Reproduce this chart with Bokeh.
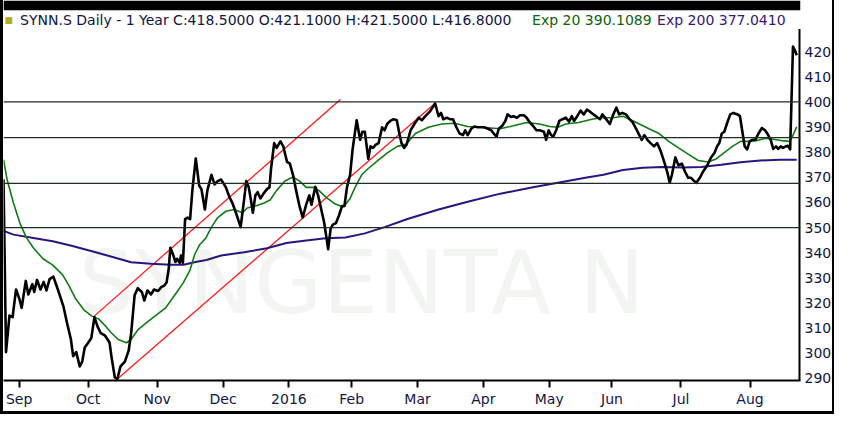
from bokeh.plotting import figure
from bokeh.models import Range1d, FixedTicker, Span, Label, BoxAnnotation
from bokeh.embed import file_html
from bokeh.resources import INLINE

# ---- data (x = trading-day index, y = price) ----
close_day = [0.0, 0.8, 1.9, 2.9, 4.0, 5.0, 5.8, 7.1, 7.9, 9.2, 9.8, 10.7, 11.8, 12.8, 13.7, 14.7, 15.9,
             17.6, 19.1, 20.2, 21.5, 22.2, 23.2, 24.3, 25.1, 25.9, 27.0, 28.0, 29.0, 30.0, 31.0, 32.4,
             33.8, 34.5, 35.5, 36.3, 37.3, 38.7, 39.9, 40.7, 41.8, 42.8, 44.1, 44.9, 45.9, 47.0, 48.0,
             49.3, 50.3, 51.2, 52.0, 52.7, 53.2, 54.0, 54.8, 55.3, 56.2, 56.6, 57.2, 57.9, 58.7, 59.5,
             60.2, 61.3, 62.4, 63.1, 64.2, 65.0, 66.3, 67.3, 68.3, 69.4, 70.9, 72.0, 73.0, 74.1, 75.1,
             75.6, 76.7, 77.4, 78.2, 78.8, 79.5, 80.3, 81.0, 81.9, 82.9, 84.0, 84.8, 85.3, 86.3, 87.1,
             88.3, 89.2, 90.4, 91.3, 92.3, 93.3, 94.4, 95.4, 96.5, 97.5, 98.2, 99.4, 100.3, 101.2, 102.2,
             103.0, 103.5, 104.3, 105.0, 106.0, 106.9, 107.9, 108.7, 109.5, 110.5, 111.3, 112.6, 113.7,
             114.4, 115.2, 116.3, 117.0, 117.8, 118.7, 119.6, 120.7, 121.5, 122.3, 123.3, 124.4, 125.4,
             126.2, 126.9, 127.7, 128.5, 129.8, 131.3, 132.4, 133.4, 134.5, 136.0, 137.6, 138.7, 139.5,
             140.2, 141.3, 142.3, 143.3, 144.4, 145.4, 146.5, 147.2, 148.0, 149.1, 150.1, 151.2, 152.2,
             153.2, 154.5, 155.5, 156.3, 157.2, 157.9, 159.0, 160.0, 160.7, 161.8, 162.6, 163.7, 164.7,
             165.9, 166.8, 167.8, 168.8, 169.9, 170.9, 172.3, 173.0, 173.8, 174.6, 175.3, 176.2, 177.2,
             178.2, 179.3, 180.3, 181.2, 181.9, 182.9, 184.0, 185.0, 186.0, 187.1, 188.1, 189.2, 190.2,
             190.9, 191.8, 193.3, 194.4, 195.4, 196.3, 197.3, 198.5, 199.6, 200.6, 201.7, 202.7, 203.5,
             204.3, 205.3, 206.3, 207.4, 208.4, 209.5, 210.5, 211.6, 212.4, 213.1, 214.2, 215.2, 216.3,
             217.3, 218.3, 219.2, 220.2, 220.9, 222.0, 223.0, 224.4, 225.6, 226.7, 227.5, 228.2, 229.0,
             229.8, 230.6, 231.7, 232.7, 234.0, 234.8, 235.5, 236.3, 237.1, 237.9, 238.7, 239.7, 240.7,
             241.8, 242.8, 243.8, 244.6, 245.4, 246.3, 247.0, 247.8, 248.5, 249.4, 250.1, 250.8, 251.7,
             252.2, 252.9]
close_px = [369.2, 300.5, 315.0, 314.4, 325.4, 321.9, 318.1, 328.8, 323.4, 327.5, 324.4, 329.2, 325.4,
            328.4, 325.0, 329.5, 330.5, 324.4, 318.7, 312.4, 305.5, 298.9, 300.5, 294.8, 296.7, 302.3,
            304.2, 306.1, 314.4, 310.6, 308.0, 307.0, 304.3, 298.0, 290.4, 289.8, 294.8, 296.7, 301.1,
            308.0, 323.1, 325.9, 324.4, 321.0, 325.0, 323.4, 325.4, 324.8, 326.3, 326.9, 328.2, 333.8,
            342.0, 339.5, 336.4, 337.6, 336.0, 338.9, 336.0, 353.4, 354.0, 353.4, 364.7, 377.5, 366.6,
            365.3, 357.2, 364.8, 371.0, 367.2, 368.5, 369.1, 366.0, 362.2, 359.7, 355.9, 352.2, 350.2,
            361.0, 368.5, 366.0, 361.6, 355.9, 362.8, 364.1, 361.6, 363.5, 365.3, 366.0, 373.5, 383.6,
            381.7, 384.3, 382.3, 376.1, 375.4, 371.0, 364.7, 358.4, 354.0, 359.1, 362.8, 359.1, 366.2,
            362.8, 357.8, 352.2, 345.8, 341.4, 349.6, 351.2, 351.8, 354.6, 358.4, 358.6, 366.0, 371.0,
            381.1, 392.7, 384.9, 388.1, 388.1, 377.3, 382.3, 381.7, 383.0, 383.6, 389.9, 388.7, 391.2,
            392.4, 393.1, 392.7, 387.4, 383.6, 381.7, 383.0, 388.7, 391.8, 393.7, 392.7, 394.3, 396.2,
            399.4, 394.3, 395.6, 393.1, 393.7, 393.1, 393.1, 389.9, 387.4, 386.8, 388.7, 386.8, 389.3,
            390.2, 389.9, 389.9, 389.9, 389.3, 388.7, 387.4, 386.2, 389.3, 390.5, 392.4, 395.0, 394.0,
            394.3, 393.7, 394.7, 394.7, 393.7, 391.8, 390.5, 388.7, 388.7, 388.1, 384.9, 388.7, 386.8,
            386.2, 388.7, 392.4, 393.1, 393.7, 392.1, 394.3, 392.4, 394.3, 396.5, 395.0, 396.9, 396.0,
            395.0, 394.0, 393.1, 395.0, 393.7, 391.2, 395.0, 397.7, 395.0, 395.6, 395.0, 393.1, 391.8,
            389.3, 386.8, 384.9, 386.8, 384.9, 383.6, 382.3, 383.6, 380.5, 376.7, 372.2, 367.8, 371.0,
            377.9, 374.8, 375.4, 372.2, 369.8, 369.8, 368.5, 367.8, 369.8, 372.2, 374.8, 377.9, 379.8,
            382.3, 383.6, 387.4, 388.1, 391.2, 395.0, 395.6, 395.0, 394.3, 388.7, 382.3, 381.1, 384.3,
            384.9, 384.9, 387.4, 389.6, 388.7, 386.8, 384.9, 381.3, 382.3, 381.3, 382.3, 381.7, 382.3,
            382.5, 381.1, 422.0, 420.8, 418.5]

ema20_day = [0.0, 1.2, 3.2, 5.3, 7.4, 9.5, 12.6, 15.7, 18.8, 20.9, 23.0, 25.6, 28.2, 30.3, 32.4, 34.5,
             36.6, 39.2, 40.7, 42.8, 45.9, 49.1, 51.7, 53.2, 55.3, 57.4, 59.5, 61.0, 62.6, 64.5, 66.3,
             68.3, 70.9, 73.5, 76.2, 77.7, 80.3, 82.9, 85.0, 87.1, 89.7, 92.3, 94.4, 96.5, 99.1, 100.6,
             102.7, 105.3, 107.4, 109.0, 110.5, 112.1, 114.2, 116.3, 119.4, 122.5, 125.6, 128.5, 131.3,
             135.5, 139.7, 143.8, 148.0, 152.2, 156.3, 158.4, 162.6, 166.8, 170.9, 174.1, 176.7, 179.3,
             183.4, 187.6, 190.7, 194.4, 197.5, 199.6, 202.7, 205.8, 209.0, 212.1, 215.2, 218.3, 221.5,
             224.6, 227.2, 229.8, 232.4, 235.0, 237.6, 240.2, 242.8, 245.4, 248.0, 250.6, 251.5, 252.9]
ema20_val = [377.0, 368.8, 359.7, 351.5, 345.8, 342.0, 337.6, 335.1, 331.3, 326.8, 321.7, 317.3, 314.8,
             313.7, 311.0, 308.0, 305.5, 304.2, 305.5, 309.3, 312.5, 315.6, 318.1, 320.7, 324.4, 328.2,
             333.2, 339.5, 343.3, 345.8, 350.2, 354.0, 356.5, 357.2, 355.9, 357.8, 358.6, 359.7, 361.0,
             364.8, 368.5, 370.1, 368.5, 366.0, 366.0, 364.7, 362.2, 359.7, 358.6, 359.1, 361.6, 366.0,
             371.0, 373.5, 376.7, 379.8, 382.3, 383.2, 387.4, 389.9, 391.2, 391.5, 390.2, 389.9, 389.5,
             389.3, 390.5, 391.8, 391.2, 390.2, 389.9, 391.2, 391.8, 393.1, 393.7, 393.7, 394.3, 393.1,
             391.2, 389.3, 387.4, 384.3, 381.7, 379.2, 376.7, 376.1, 377.3, 379.8, 382.3, 384.3, 384.3,
             384.6, 385.5, 385.1, 384.6, 384.3, 386.2, 390.1]

ema200_day = [0.0, 3.2, 9.5, 15.7, 22.0, 28.2, 34.5, 40.7, 47.0, 53.2, 57.4, 61.6, 64.7, 69.4, 76.7,
              84.0, 90.2, 96.5, 102.7, 109.0, 115.2, 121.5, 128.8, 138.7, 148.0, 158.4, 168.8, 177.2,
              185.5, 191.3, 197.5, 203.8, 210.0, 216.3, 222.5, 228.8, 235.0, 241.3, 247.5, 252.9]
ema200_val = [348.7, 347.2, 345.9, 344.6, 342.7, 340.6, 338.4, 336.2, 335.6, 335.2, 335.2, 336.4, 337.1,
              338.9, 340.2, 341.8, 343.9, 344.9, 345.8, 346.1, 347.7, 350.2, 353.4, 357.2, 360.3, 363.5,
              366.0, 367.9, 369.8, 371.0, 372.9, 373.8, 374.1, 373.9, 374.1, 375.0, 376.0, 376.7, 377.0,
              377.0]

sr_levels = [400.0, 385.8, 367.6, 350.0]
chan_upper_day = [29.0, 107.4]
chan_upper_val = [314.9, 400.9]
chan_lower_day = [36.3, 137.6]
chan_lower_val = [289.8, 399.4]

month_ticks = [5, 27, 49, 70, 91, 111, 132, 153, 174, 194, 216, 238]
month_labels = ["Sep", "Oct", "Nov", "Dec", "2016", "Feb", "Mar", "Apr", "May", "Jun", "Jul", "Aug"]
price_ticks = [290, 300, 310, 320, 330, 340, 350, 360, 370, 380, 390, 400, 410, 420]

title_main = "SYNN.S Daily -  1 Year   C:418.5000 O:421.1000 H:421.5000 L:416.8000"
title_ema20 = "Exp 20 390.1089"
title_ema200 = "Exp 200 377.0410"
watermark = "SYNGENTA N"

FONT = "DejaVu Sans"
TXT = "#12163f"
X0, X1 = 0, 254.1
Y0, Y1 = 289.2, 440.3
BAND_BOTTOM = 436.4     # lower edge of the black band along the top of the picture
AXIS_TOP = 429.0

# Black sides/bottom of the picture come from a CSS border (border-box); the canvas keeps
# the outer size, so its spare right/bottom margin hides under that border.
p = figure(width=834, height=414, output_backend="svg", toolbar_location=None, title=None,
           x_range=Range1d(X0, X1), y_range=Range1d(Y0, Y1),
           y_axis_location="right",
           min_border_left=0, min_border_right=37, min_border_top=0, min_border_bottom=34,
           background_fill_color="white", border_fill_color="white", outline_line_color=None)
p.styles = {"box-sizing": "border-box", "border-style": "solid", "border-color": "black",
            "border-width": "0px 2px 3px 3px"}
p.grid.visible = False

xa = p.xaxis[0]
xa.ticker = FixedTicker(ticks=month_ticks)
xa.major_label_overrides = {t: l for t, l in zip(month_ticks, month_labels)}
xa.axis_line_color = "black"
xa.axis_line_width = 2
xa.major_tick_line_color = "black"
xa.major_tick_line_width = 2
xa.major_tick_out = 7
xa.major_tick_in = 0
xa.minor_tick_out = 0
xa.minor_tick_in = 0
xa.major_label_standoff = 3
xa.major_label_text_align = "left"
xa.major_label_text_font = FONT
xa.major_label_text_font_size = "14px"
xa.major_label_text_color = TXT

ya = p.yaxis[0]
ya.ticker = FixedTicker(ticks=price_ticks)
ya.axis_line_color = None
ya.major_tick_out = 0
ya.major_tick_in = 0
ya.minor_tick_out = 0
ya.minor_tick_in = 0
ya.major_label_standoff = 4
ya.major_label_text_font = FONT
ya.major_label_text_font_size = "14px"
ya.major_label_text_color = TXT

# watermark
p.add_layout(Label(x=24, y=307.5, text=watermark, text_font=FONT, text_font_size="88px",
                   text_color="#f3f5f3", level="underlay"))

for lv in sr_levels:
    p.add_layout(Span(location=lv, dimension="width", line_color="#1b2f27", line_width=1.3))

p.line(chan_upper_day, chan_upper_val, line_color="#ff1a1a", line_width=1.3)
p.line(chan_lower_day, chan_lower_val, line_color="#ff1a1a", line_width=1.3)
p.line(ema200_day, ema200_val, line_color="#2c1480", line_width=2)
p.line(ema20_day, ema20_val, line_color="#127a14", line_width=1.6)
p.line(close_day, close_px, line_color="black", line_width=2.6, line_join="round")

# right price-axis line (starts below the header row)
p.segment(x0=[X1], y0=[Y0], x1=[X1], y1=[AXIS_TOP], line_color="black", line_width=4)

# black band along the top edge
p.add_layout(BoxAnnotation(bottom=BAND_BOTTOM, fill_color="black", fill_alpha=1.0,
                           line_color=None))

# header texts
p.add_layout(Label(x=0.3, y=432.6, text="\u25a0", text_font=FONT, text_font_size="9px",
                   text_color="#b5ad1e", text_baseline="middle"))
p.add_layout(Label(x=5.3, y=432.6, text=title_main, text_font=FONT, text_font_size="14px",
                   text_color=TXT, text_baseline="middle"))
p.add_layout(Label(x=5.3, y=432.6, x_offset=512, text=title_ema20, text_font=FONT,
                   text_font_size="14px", text_color="#0b650b", text_baseline="middle"))
p.add_layout(Label(x=5.3, y=432.6, x_offset=637, text=title_ema200, text_font=FONT,
                   text_font_size="14px", text_color="#35177a", text_baseline="middle"))

open("out.html", "w").write(file_html(p, INLINE))
